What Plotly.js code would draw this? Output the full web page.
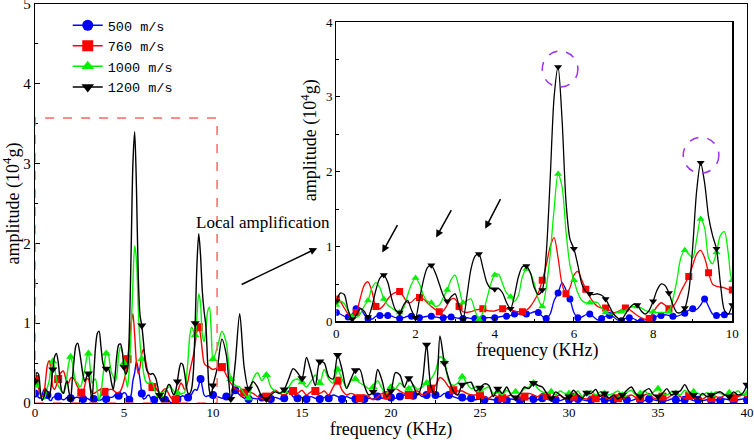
<!DOCTYPE html>
<html>
<head>
<meta charset="utf-8">
<script src="https://cdn.plot.ly/plotly-3.0.1.min.js"></script>
<style>html,body{margin:0;padding:0;background:#fff;}#chart{width:754px;height:440px;}</style>
</head>
<body>
<div id="chart"></div>
<script>
// Series names
const seriesNames = ['500 m/s', '760 m/s', '1000 m/s', '1200 m/s'];

// Low band 0..10 kHz, 0.1 kHz step (101 values)
const blackLow = [0.27,0.38,0.36,0.15,0.03,0.08,0.17,0.14,0.06,0.2,
  0.42,0.58,0.62,0.52,0.3,0.15,0.12,0.22,0.28,0.15,
  0.05,0.3,0.55,0.72,0.75,0.65,0.5,0.35,0.27,0.33,
  0.37,0.2,0.03,0.35,0.7,0.87,0.9,0.72,0.52,0.44,
  0.43,0.44,0.38,0.25,0.17,0.35,0.6,0.73,0.74,0.65,
  0.45,0.36,0.42,0.9,1.9,3.0,3.4,2.7,1.6,1.1,
  0.97,0.75,0.5,0.4,0.37,0.36,0.37,0.35,0.3,0.2,
  0.1,0.05,0.02,0.1,0.18,0.23,0.22,0.14,0.1,0.15,
  0.27,0.42,0.5,0.48,0.38,0.22,0.12,0.12,0.18,0.4,
  1.0,1.75,2.12,1.85,1.4,1.15,0.97,0.5,0.15,0.1,
  0.22];
const redLow = [0.3,0.27,0.18,0.1,0.08,0.12,0.3,0.48,0.53,0.4,
  0.2,0.17,0.22,0.3,0.36,0.39,0.4,0.33,0.25,0.26,
  0.31,0.32,0.3,0.25,0.2,0.16,0.13,0.14,0.22,0.3,
  0.3,0.2,0.13,0.12,0.13,0.15,0.16,0.17,0.15,0.14,
  0.14,0.16,0.17,0.17,0.16,0.14,0.13,0.13,0.15,0.2,
  0.28,0.38,0.55,0.75,1.0,1.12,0.85,0.5,0.37,0.45,
  0.62,0.67,0.55,0.43,0.33,0.25,0.2,0.18,0.18,0.15,
  0.12,0.13,0.16,0.18,0.16,0.12,0.08,0.05,0.03,0.04,
  0.12,0.2,0.25,0.22,0.17,0.2,0.28,0.4,0.5,0.6,
  0.75,0.9,0.95,0.85,0.65,0.5,0.47,0.46,0.45,0.43,
  0.42];
const greenLow = [0.22,0.27,0.24,0.14,0.06,0.05,0.1,0.2,0.28,0.45,
  0.52,0.45,0.3,0.22,0.18,0.14,0.12,0.18,0.35,0.5,
  0.58,0.5,0.35,0.27,0.25,0.2,0.22,0.32,0.42,0.56,
  0.62,0.45,0.25,0.28,0.3,0.15,0.03,0.12,0.3,0.5,
  0.62,0.63,0.5,0.38,0.33,0.27,0.35,0.6,0.7,0.65,
  0.5,0.3,0.2,0.45,0.9,1.5,1.97,1.8,1.2,0.75,
  0.55,0.38,0.28,0.25,0.25,0.26,0.25,0.18,0.12,0.1,
  0.1,0.12,0.13,0.15,0.18,0.2,0.2,0.18,0.15,0.13,
  0.13,0.12,0.12,0.12,0.13,0.3,0.55,0.85,0.95,0.9,
  0.85,1.1,1.37,1.25,0.85,0.77,0.92,1.15,1.2,0.9,
  0.55];
const blueLow = [0.12,0.1,0.07,0.06,0.1,0.17,0.18,0.1,0.04,0.03,
  0.07,0.08,0.08,0.08,0.07,0.05,0.04,0.05,0.07,0.07,
  0.06,0.05,0.06,0.07,0.07,0.06,0.05,0.05,0.06,0.06,
  0.05,0.04,0.04,0.05,0.04,0.04,0.03,0.04,0.05,0.05,
  0.05,0.06,0.07,0.07,0.08,0.1,0.1,0.09,0.1,0.11,
  0.13,0.12,0.07,0.04,0.1,0.28,0.38,0.52,0.42,0.3,
  0.12,0.05,0.06,0.09,0.1,0.06,0.02,0.04,0.07,0.08,
  0.06,0.02,0.01,0.04,0.05,0.04,0.01,0.0,0.0,0.02,
  0.05,0.07,0.08,0.09,0.08,0.07,0.07,0.09,0.11,0.15,
  0.17,0.16,0.22,0.3,0.2,0.1,0.08,0.09,0.09,0.1,
  0.1];

// High band 10.25..40 kHz, 0.25 kHz step (120 values, 4 per kHz)
const blackHigh = [0.45,0.8,0.6,0.05, 0.5,1.12,0.45,0.18, 0.27,0.2,0.08,0.05, 0.1,0.14,0.12,0.17,
  0.3,0.43,0.38,0.31, 0.57,0.4,0.22,0.52, 0.5,0.33,0.3,0.6, 0.42,0.18,0.3,0.41,
  0.42,0.22,0.1,0.14, 0.42,0.28,0.08,0.15, 0.38,0.35,0.2,0.31, 0.22,0.1,0.25,0.73,
  0.2,0.1,0.84,0.5, 0.3,0.15,0.1,0.23, 0.25,0.26,0.15,0.19, 0.24,0.22,0.08,0.18,
  0.12,0.2,0.1,0.07, 0.12,0.2,0.18,0.25, 0.22,0.2,0.12,0.06, 0.14,0.1,0.06,0.08,
  0.16,0.1,0.06,0.13, 0.12,0.17,0.08,0.12, 0.06,0.1,0.05,0.1, 0.16,0.2,0.12,0.08,
  0.15,0.18,0.1,0.08, 0.12,0.18,0.1,0.13, 0.15,0.23,0.14,0.1, 0.06,0.12,0.08,0.1,
  0.12,0.14,0.1,0.08, 0.14,0.1,0.12,0.23];
const redHigh = [0.44,0.45,0.35,0.25, 0.18,0.15,0.13,0.14, 0.12,0.08,0.06,0.08, 0.12,0.16,0.12,0.1,
  0.13,0.15,0.12,0.16, 0.1,0.14,0.15,0.12, 0.15,0.1,0.2,0.28, 0.16,0.1,0.12,0.1,
  0.06,0.1,0.08,0.04, 0.08,0.12,0.1,0.15, 0.18,0.15,0.12,0.1, 0.14,0.15,0.1,0.12,
  0.18,0.22,0.32,0.28, 0.2,0.16,0.15,0.15, 0.12,0.1,0.1,0.1, 0.08,0.06,0.1,0.08,
  0.06,0.08,0.1,0.06, 0.07,0.08,0.12,0.1, 0.08,0.12,0.09,0.06, 0.08,0.1,0.06,0.07,
  0.08,0.1,0.06,0.05, 0.08,0.06,0.1,0.07, 0.05,0.08,0.06,0.05, 0.08,0.1,0.07,0.06,
  0.1,0.12,0.06,0.05, 0.08,0.06,0.1,0.12, 0.08,0.06,0.09,0.06, 0.07,0.05,0.08,0.06,
  0.08,0.06,0.1,0.07, 0.06,0.08,0.1,0.07];
const greenHigh = [0.7,0.9,0.75,0.3, 0.22,0.2,0.12,0.06, 0.3,0.38,0.28,0.35, 0.2,0.15,0.12,0.15,
  0.2,0.28,0.3,0.26, 0.2,0.27,0.35,0.25, 0.42,0.3,0.25,0.42, 0.3,0.2,0.28,0.3,
  0.25,0.22,0.18,0.2, 0.28,0.18,0.12,0.2, 0.18,0.25,0.2,0.18, 0.22,0.17,0.2,0.25,
  0.3,0.4,0.58,0.52, 0.27,0.22,0.25,0.33, 0.25,0.18,0.2,0.16, 0.18,0.2,0.12,0.14,
  0.1,0.16,0.12,0.14, 0.12,0.18,0.2,0.25, 0.18,0.14,0.12,0.14, 0.1,0.15,0.12,0.12,
  0.1,0.15,0.08,0.12, 0.15,0.1,0.14,0.12, 0.1,0.12,0.15,0.1, 0.13,0.16,0.1,0.12,
  0.15,0.1,0.14,0.18, 0.12,0.1,0.14,0.12, 0.1,0.16,0.12,0.14, 0.12,0.1,0.13,0.1,
  0.14,0.12,0.1,0.13, 0.12,0.15,0.1,0.12];
const blueHigh = [0.08,0.06,0.08,0.07, 0.16,0.1,0.06,0.05, 0.06,0.05,0.07,0.04, 0.05,0.07,0.05,0.06,
  0.15,0.08,0.06,0.07, 0.05,0.08,0.06,0.05, 0.07,0.06,0.1,0.08, 0.05,0.08,0.06,0.05,
  0.07,0.05,0.06,0.05, 0.08,0.06,0.05,0.07, 0.06,0.08,0.1,0.07, 0.09,0.12,0.08,0.1,
  0.14,0.1,0.08,0.12, 0.1,0.08,0.06,0.07, 0.05,0.06,0.04,0.05, 0.04,0.05,0.04,0.03,
  0.04,0.03,0.05,0.04, 0.03,0.04,0.06,0.05, 0.04,0.06,0.05,0.03, 0.04,0.03,0.05,0.04,
  0.03,0.05,0.04,0.03, 0.04,0.03,0.05,0.04, 0.03,0.04,0.03,0.05, 0.04,0.03,0.05,0.04,
  0.03,0.05,0.04,0.03, 0.04,0.03,0.05,0.04, 0.03,0.04,0.05,0.03, 0.04,0.03,0.04,0.03,
  0.04,0.03,0.05,0.04, 0.03,0.04,0.05,0.04];

// Tick labels
const mainXTicks = [0,5,10,15,20,25,30,35,40];
const mainYTicks = [0,1,2,3,4,5];
const insetXTicks = [0,2,4,6,8,10];
const insetYTicks = [0,1,2,3,4];

// frequency grid (kHz)
const freq = [];
for (let i = 0; i <= 100; i++) freq.push(+(i / 10).toFixed(2));
for (let j = 1; j <= 120; j++) freq.push(+(10 + j * 0.25).toFixed(2));

const ys = [blueLow.concat(blueHigh), redLow.concat(redHigh), greenLow.concat(greenHigh), blackLow.concat(blackHigh)];
const colors = ['#0000ff', '#ff0000', '#00f000', '#000000'];
const symbols = ['circle', 'square', 'triangle-up', 'triangle-down'];
// marker spacing (kHz) main / inset, as in the reference
const mainStep = [0.665, 1.31, 1.0, 1.0];
const insetStep = [0.266, 0.524, 0.4, 0.4];

function sample(y, step, xmax) {
  const mx = [], my = [];
  for (let t = 0; t <= xmax + 1e-6; t += step) {
    let best = 0, bd = 1e9;
    for (let i = 0; i < freq.length; i++) {
      const d = Math.abs(freq[i] - t);
      if (d < bd) { bd = d; best = i; }
    }
    mx.push(freq[best]); my.push(y[best]);
  }
  return [mx, my];
}

const traces = [];
const order = [0, 1, 2, 3];
order.forEach(k => {
  traces.push({x: freq, y: ys[k], type: 'scatter', mode: 'lines', line: {color: colors[k], width: 1.4, shape: 'spline', smoothing: 0.8}, showlegend: false, hoverinfo: 'skip', xaxis: 'x', yaxis: 'y'});
  const m = sample(ys[k], mainStep[k], 40);
  traces.push({x: m[0], y: m[1], type: 'scatter', mode: 'markers', marker: {color: colors[k], symbol: symbols[k], size: 8}, showlegend: false, hoverinfo: 'skip', xaxis: 'x', yaxis: 'y'});
});
order.forEach(k => {
  const lx = [], ly = [];
  for (let i = 0; i < freq.length; i++) if (freq[i] <= 10.5) { lx.push(freq[i]); ly.push(ys[k][i]); }
  traces.push({x: lx, y: ly, type: 'scatter', mode: 'lines', line: {color: colors[k], width: 1.3, shape: 'spline', smoothing: 0.8}, showlegend: false, hoverinfo: 'skip', xaxis: 'x2', yaxis: 'y2'});
  const m = sample(ys[k], insetStep[k], 10);
  traces.push({x: m[0], y: m[1], type: 'scatter', mode: 'markers', marker: {color: colors[k], symbol: symbols[k], size: 7}, showlegend: false, hoverinfo: 'skip', xaxis: 'x2', yaxis: 'y2'});
});
// legend entries
order.forEach(k => {
  traces.push({x: [null], y: [null], type: 'scatter', mode: 'lines+markers', name: seriesNames[k], line: {color: colors[k], width: 1.5}, marker: {color: colors[k], symbol: symbols[k], size: 11}, xaxis: 'x', yaxis: 'y'});
});

const serif = 'Liberation Serif, Times New Roman, serif';
const axisCommon = {
  showgrid: false, zeroline: false, showline: true, linecolor: '#000', mirror: true,
  ticks: 'inside', tickcolor: '#000', ticklabeloverflow: 'allow', tickfont: {family: serif, color: '#000'}
};

const layout = {
  width: 754, height: 440,
  margin: {l: 34.5, r: 7, t: 4, b: 37},
  paper_bgcolor: '#fff', plot_bgcolor: '#fff',
  font: {family: serif, color: '#000'},
  showlegend: true,
  legend: {x: 0.046, y: 0.985, xanchor: 'left', yanchor: 'top', bgcolor: 'rgba(0,0,0,0)', borderwidth: 0,
    font: {family: 'Liberation Mono, monospace', size: 13.5, color: '#000'}, tracegroupgap: 0, itemwidth: 30},
  xaxis: Object.assign({}, axisCommon, {range: [0, 40], domain: [0, 1], tickvals: mainXTicks, ticklen: 5, linewidth: 1.3,
    tickfont: {family: serif, size: 13, color: '#000'}, ticklabelstandoff: -3,
    minor: {ticks: 'inside', dtick: 2.5, ticklen: 3, tickcolor: '#000'},
    title: {text: 'frequency (KHz)', font: {family: serif, size: 18, color: '#000'}, standoff: 7}}),
  yaxis: Object.assign({}, axisCommon, {range: [0, 5], domain: [0, 1], tickvals: mainYTicks, ticklen: 5, linewidth: 1.3,
    tickfont: {family: serif, size: 15, color: '#000'},
    minor: {ticks: 'inside', dtick: 0.5, ticklen: 3, tickcolor: '#000'},
    title: {text: 'amplitude (10<sup>4</sup>g)', font: {family: serif, size: 18, color: '#000'}, standoff: 4}}),
  xaxis2: Object.assign({}, axisCommon, {range: [0, 10], domain: [0.4232, 0.9794], anchor: 'y2', tickvals: insetXTicks, ticklen: 4, linewidth: 1.2,
    tickfont: {family: serif, size: 13, color: '#000'},
    minor: {ticks: 'inside', dtick: 1, ticklen: 2.5, tickcolor: '#000'}}),
  yaxis2: Object.assign({}, axisCommon, {range: [0, 4], domain: [0.2043, 0.9550], anchor: 'x2', tickvals: insetYTicks, ticklen: 4, linewidth: 1.2,
    tickfont: {family: serif, size: 13, color: '#000'},
    minor: {ticks: 'inside', dtick: 0.5, ticklen: 2.5, tickcolor: '#000'}}),
  shapes: [
    {type: 'rect', xref: 'x', yref: 'y', x0: 0, x1: 10.23, y0: 0, y1: 3.57, line: {color: '#ff6666', width: 1.5, dash: 'dash'}, layer: 'above'},
    {type: 'circle', xref: 'x2', yref: 'y2', x0: 5.2, x1: 6.1, y0: 3.13, y1: 3.61, line: {color: '#9933ee', width: 1.5, dash: 'dash'}},
    {type: 'circle', xref: 'x2', yref: 'y2', x0: 8.76, x1: 9.66, y0: 1.98, y1: 2.46, line: {color: '#9933ee', width: 1.5, dash: 'dash'}}
  ],
  annotations: [
    {xref: 'paper', yref: 'paper', x: 0.3205, y: 0.4525, text: 'Local amplification', showarrow: false, font: {family: serif, size: 17, color: '#000'}, xanchor: 'center', yanchor: 'middle'},
    {xref: 'x', yref: 'y', x: 15.85, y: 1.94, ax: -77, ay: 37, text: '', showarrow: true, arrowhead: 2, arrowsize: 1, arrowwidth: 1.5, arrowcolor: '#000'},
    {xref: 'x2', yref: 'y2', x: 1.16, y: 0.92, ax: 16, ay: -29, text: '', showarrow: true, arrowhead: 2, arrowsize: 1, arrowwidth: 1.5, arrowcolor: '#000'},
    {xref: 'x2', yref: 'y2', x: 2.52, y: 1.12, ax: 16, ay: -29, text: '', showarrow: true, arrowhead: 2, arrowsize: 1, arrowwidth: 1.5, arrowcolor: '#000'},
    {xref: 'x2', yref: 'y2', x: 3.76, y: 1.24, ax: 16, ay: -31, text: '', showarrow: true, arrowhead: 2, arrowsize: 1, arrowwidth: 1.5, arrowcolor: '#000'},
    {xref: 'paper', yref: 'paper', x: 0.3855, y: 0.66, text: 'amplitude (10<sup>4</sup>g)', textangle: -90, showarrow: false, font: {family: serif, size: 18, color: '#000'}, xanchor: 'center', yanchor: 'middle'},
    {xref: 'paper', yref: 'paper', x: 0.7048, y: 0.1325, text: 'frequency (KHz)', showarrow: false, font: {family: serif, size: 18, color: '#000'}, xanchor: 'center', yanchor: 'middle'}
  ]
};

Plotly.newPlot('chart', traces, layout, {displayModeBar: false, staticPlot: true});
</script>
</body>
</html>
